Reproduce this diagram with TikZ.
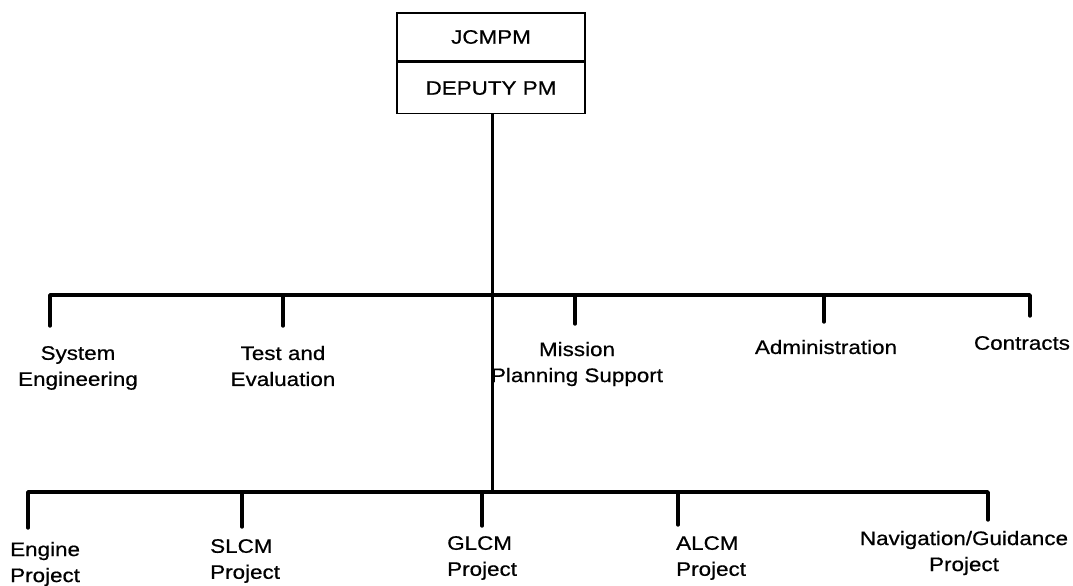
\documentclass[tikz,border=0pt]{standalone}
\usepackage{fontspec}
\setmainfont[FakeStretch=1.15,FakeBold=0.6]{Liberation Sans}
\begin{document}
\begin{tikzpicture}[x=1pt,y=-1pt,
  lbl/.style={inner sep=0pt,font=\fontsize{19.5}{26}\selectfont},
  boxcell/.style={draw,line width=1.6pt,minimum width=188pt,inner sep=0pt,font=\fontsize{19.5}{22}\selectfont},
  bar/.style={line width=3.4pt,line cap=round,line join=round}]
\useasboundingbox[fill=white] (0,0) rectangle (1073,586);
% top boxes
\node[boxcell,minimum height=48pt] (jc) at (491,37) {JCMPM};
\node[boxcell,minimum height=51pt,anchor=north] (dp) at (jc.south) {DEPUTY PM};
% coordinates
\coordinate (hub) at (492,295);
\coordinate (low) at (492,492);
\coordinate (t1) at (50,326);
\coordinate (t2) at (283,326);
\coordinate (t3) at (575,324);
\coordinate (t4) at (824,322);
\coordinate (t5) at (1030,316);
\coordinate (b1) at (28,528);
\coordinate (b2) at (242,527);
\coordinate (b3) at (482,526);
\coordinate (b4) at (678,525);
\coordinate (b5) at (988,520);
% trunk
\draw[line width=3pt] (dp.south -| hub) -- (hub) -- (low);
% upper bar
\draw[bar] (t1) |- (hub) -| (t5);
\draw[bar] (t2) -- (t2 |- hub);
\draw[bar] (t3) -- (t3 |- hub);
\draw[bar] (t4) -- (t4 |- hub);
% lower bar
\draw[bar] (b1) |- (low) -| (b5);
\draw[bar] (b2) -- (b2 |- low);
\draw[bar] (b3) -- (b3 |- low);
\draw[bar] (b4) -- (b4 |- low);
% labels upper
\node[lbl,align=center] (se) at (78,368) {System\\Engineering};
\node[lbl,align=center] (te) at (283,366) {Test and\\Evaluation};
\node[lbl,align=center] (mp) at (577,364) {Mission\\Planning Support};
\node[lbl] (ad) at (826,347) {Administration};
\node[lbl] (co) at (1022,343) {Contracts};
% labels lower
\node[lbl,align=left,anchor=west] (en) at (10,564) {Engine\\Project};
\node[lbl,align=left,anchor=west] (sl) at (210,561) {SLCM\\Project};
\node[lbl,align=left,anchor=west] (gl) at (447,558) {GLCM\\Project};
\node[lbl,align=left,anchor=west] (al) at (676,558) {ALCM\\Project};
\node[lbl,align=center] (nv) at (964,553) {Navigation/Guidance\\Project};
\end{tikzpicture}
\end{document}
